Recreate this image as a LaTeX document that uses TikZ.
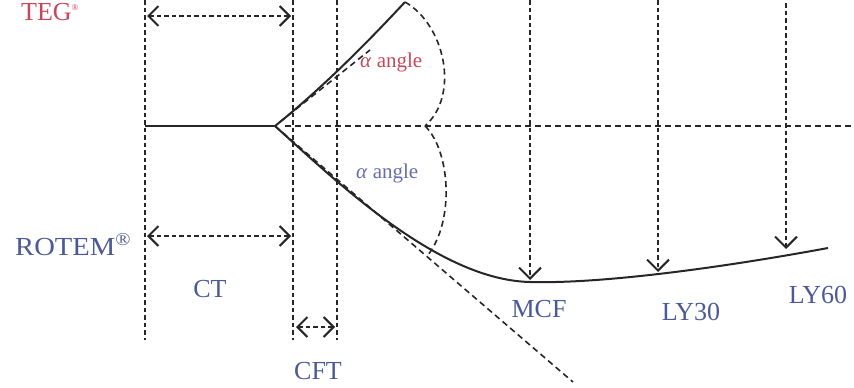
\documentclass[tikz,border=0pt]{standalone}
\usepackage{fontspec}
\setmainfont{Liberation Serif}
\usetikzlibrary{arrows.meta}
\definecolor{tegred}{RGB}{200,70,90}
\definecolor{rotblue}{RGB}{75,90,150}
\definecolor{angblue}{RGB}{100,110,175}
\tikzset{
  solidcurve/.style={line width=2pt, black!85},
  vdash/.style={line width=1.7pt, black!85, dash pattern=on 4.5pt off 3pt},
  hdash/.style={line width=1.6pt, black!85, dash pattern=on 6pt off 4pt},
  dblarrow/.style={vdash, {Straight Barb[length=10pt,width=20pt,line width=2pt]}-{Straight Barb[length=10pt,width=20pt,line width=2pt]}},
  downarrow/.style={vdash, -{Straight Barb[length=11pt,width=22pt,line width=2pt]}},
  lbl/.style={inner sep=0pt, font=\fontsize{26}{28}\selectfont},
  anglbl/.style={inner sep=0pt, font=\fontsize{21}{23}\selectfont}
}
\begin{document}
\begin{tikzpicture}[x=1pt,y=-1pt]
\useasboundingbox (0,0) rectangle (854,388);
% key coordinates
\coordinate (s) at (145,126);
\coordinate (split) at (275,126);
\coordinate (hd0) at (285,126);
\coordinate (hd1) at (854,126);
\coordinate (v1t) at (145,0);  \coordinate (v1b) at (145,340);
\coordinate (v2t) at (293,0);  \coordinate (v2b) at (293,340);
\coordinate (v3t) at (337,0);  \coordinate (v3b) at (337,340);
\coordinate (a1l) at (147,16);  \coordinate (a1r) at (291,16);
\coordinate (a2l) at (147,236); \coordinate (a2r) at (291,236);
\coordinate (a3l) at (296,327); \coordinate (a3r) at (335,327);
\coordinate (ut) at (405,2);
\coordinate (mid) at (425,126);
\coordinate (lp) at (428,255);
\coordinate (mcf) at (530,282);
\coordinate (end) at (828,248);
\coordinate (tu0) at (280,122);
\coordinate (tu1) at (370,50);
\coordinate (tl1) at (573,382);
\coordinate (m1t) at (530,0); \coordinate (m1b) at (530,280);
\coordinate (m2t) at (658,0); \coordinate (m2b) at (658,272);
\coordinate (m3t) at (786,3); \coordinate (m3b) at (786,249);

% vertical dashed guides
\draw[vdash] (v1t) -- (v1b);
\draw[vdash] (v2t) -- (v2b);
\draw[vdash] (v3t) -- (v3b);
% horizontal dashed baseline
\draw[hdash] (hd0) -- (hd1);
% tangents
\draw[hdash] (tu0) -- (tu1);
\draw[hdash] (split) -- (tl1);
% angle arcs
\draw[hdash] (ut) .. controls (445,25) and (460,95) .. (mid);
\draw[hdash] (mid) .. controls (450,150) and (455,220) .. (lp);
% main trace
\draw[solidcurve] (s) -- (split);
\draw[solidcurve] (split) .. controls (320,90) and (365,45) .. (ut);
\draw[solidcurve] (split) .. controls (340,185) and (440,280) .. (mcf)
   .. controls (600,284) and (720,268) .. (end);
% double arrows
\draw[dblarrow] (a1l) -- (a1r);
\draw[dblarrow] (a2l) -- (a2r);
\draw[dblarrow] (a3l) -- (a3r);
% down arrows
\draw[downarrow] (m1t) -- (m1b);
\draw[downarrow] (m2t) -- (m2b);
\draw[downarrow] (m3t) -- (m3b);
% labels
\node[lbl, text=tegred, anchor=base west] (teg) at (21,20) {TEG\textsuperscript{\small ®}};
\node[lbl, text=rotblue, anchor=base west, xscale=1.1] (rotem) at (15,255) {ROTEM\textsuperscript{®}};
\node[lbl, text=rotblue, anchor=base] (ct) at (210,297) {CT};
\node[lbl, text=rotblue, anchor=base] (cft) at (318,379) {CFT};
\node[lbl, text=rotblue, anchor=base] (mcflbl) at (539,317) {MCF};
\node[lbl, text=rotblue, anchor=base] (ly30) at (691,320) {LY30};
\node[lbl, text=rotblue, anchor=base] (ly60) at (818,303) {LY60};
\node[anglbl, text=tegred, anchor=base west] (angr) at (360,67) {\textit{α} angle};
\node[anglbl, text=angblue, anchor=base west] (angb) at (356,178) {\textit{α} angle};
\end{tikzpicture}
\end{document}
